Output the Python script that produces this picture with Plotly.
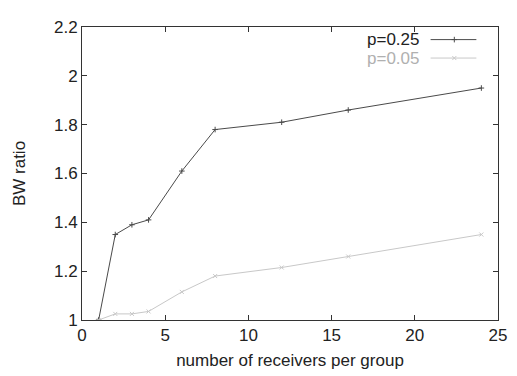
import plotly.graph_objects as go

receivers = [1, 2, 3, 4, 6, 8, 12, 16, 24]
ratio_p025 = [1.0, 1.35, 1.39, 1.41, 1.61, 1.78, 1.81, 1.86, 1.95]
ratio_p005 = [1.0, 1.025, 1.025, 1.035, 1.115, 1.18, 1.215, 1.26, 1.35]
series_names = ["p=0.25", "p=0.05"]
x_ticks = [0, 5, 10, 15, 20, 25]
y_ticks = [1, 1.2, 1.4, 1.6, 1.8, 2, 2.2]
y_tick_text = ["1", "1.2", "1.4", "1.6", "1.8", "2", "2.2"]

dark = "#4a4a4a"
light = "#c8c8c8"
font = "Liberation Sans, Arial, sans-serif"

fig = go.Figure()
fig.add_trace(go.Scatter(x=receivers, y=ratio_p025, mode="lines+markers", name=series_names[0],
                         line=dict(color=dark, width=1),
                         marker=dict(symbol="cross-thin", size=4, line=dict(color=dark, width=1)),
                         showlegend=False))
fig.add_trace(go.Scatter(x=receivers, y=ratio_p005, mode="lines+markers", name=series_names[1],
                         line=dict(color=light, width=1),
                         marker=dict(symbol="x-thin", size=4, line=dict(color=light, width=1)),
                         showlegend=False))

# legend drawn gnuplot-style (text left, sample right)
leg_y = [0.957, 0.894]
for name, col, lc, sym, yy in [(series_names[0], "#222222", dark, "cross-thin", leg_y[0]),
                               (series_names[1], "#b0b0b0", light, "x-thin", leg_y[1])]:
    fig.add_annotation(xref="paper", yref="paper", x=0.816, y=yy, text=name, showarrow=False,
                       xanchor="right", yanchor="middle",
                       font=dict(family=font, size=17, color=col))
    fig.add_shape(type="line", xref="paper", yref="paper", x0=0.838, x1=0.948, y0=yy, y1=yy,
                  line=dict(color=lc, width=1))
    fig.add_trace(go.Scatter(x=[0.895], y=[yy], xaxis="x2", yaxis="y2", mode="markers",
                             marker=dict(symbol=sym, size=4, line=dict(color=lc, width=1)),
                             showlegend=False, hoverinfo="skip"))

fig.update_layout(
    width=509, height=368,
    margin=dict(l=72, r=10, t=12, b=55),
    paper_bgcolor="white", plot_bgcolor="white",
    font=dict(family=font, size=17, color="#222"),
    xaxis=dict(range=[0, 25], tickvals=x_ticks, ticks="inside", ticklen=5, tickcolor="#333",
               showline=True, linecolor="#333", linewidth=1, mirror="ticks", showgrid=False,
               zeroline=False, tickfont=dict(size=17),
               title=dict(text="number of receivers per group", font=dict(size=17), standoff=9)),
    yaxis=dict(range=[1, 2.2], tickvals=y_ticks, ticktext=y_tick_text, ticks="inside", ticklen=5,
               tickcolor="#333", showline=True, linecolor="#333", linewidth=1, mirror="ticks",
               showgrid=False, zeroline=False, tickfont=dict(size=17),
               title=dict(text="BW ratio", font=dict(size=17), standoff=24)),
    xaxis2=dict(range=[0, 1], overlaying="x", visible=False),
    yaxis2=dict(range=[0, 1], overlaying="y", visible=False),
)

fig.write_html("out.html")
